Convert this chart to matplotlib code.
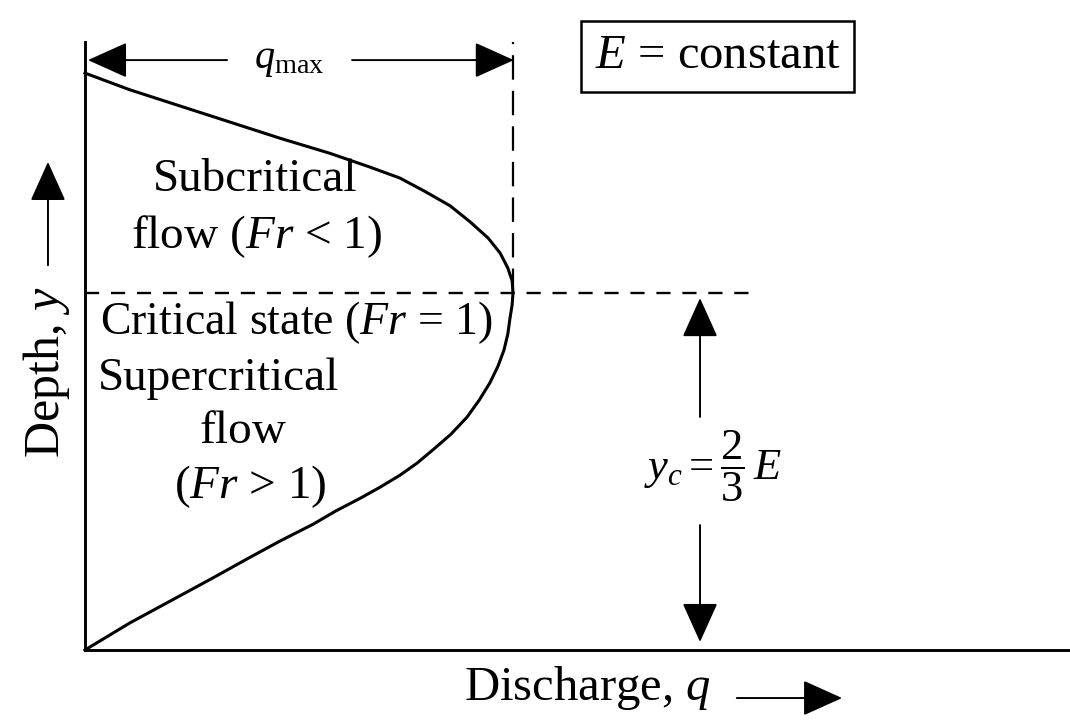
# Import the required libraries.
import matplotlib.pyplot as plt

# Font setup: a Times-like serif for the text and the maths.
plt.rcParams['font.family'] = ['Liberation Serif', 'DejaVu Serif']
plt.rcParams['mathtext.fontset'] = 'custom'
plt.rcParams['mathtext.rm'] = 'Liberation Serif'
plt.rcParams['mathtext.it'] = 'Liberation Serif:italic'
plt.rcParams['mathtext.bf'] = 'Liberation Serif:bold'

# Curve: depth as y/E, discharge as q/q_max.
discharge = [0.0, 0.105, 0.222, 0.339, 0.456, 0.572, 0.666, 0.736, 0.794, 0.853,
             0.900, 0.942, 0.970, 0.988, 0.998, 1.0, 0.998, 0.993, 0.988, 0.979,
             0.965, 0.946, 0.921, 0.893, 0.855, 0.813, 0.776, 0.736, 0.689, 0.643,
             0.586, 0.533, 0.456, 0.379, 0.299, 0.222, 0.105, 0.0]
depth = [1.0, 0.971, 0.943, 0.915, 0.887, 0.861, 0.837, 0.818, 0.795, 0.770,
         0.742, 0.714, 0.688, 0.662, 0.640, 0.619, 0.598, 0.575, 0.548, 0.520,
         0.492, 0.463, 0.433, 0.404, 0.374, 0.347, 0.324, 0.303, 0.282, 0.263,
         0.241, 0.218, 0.189, 0.158, 0.125, 0.094, 0.047, 0.0]

# Critical point (maximum discharge).
q_max = 1.0
y_crit = 0.619

# Create the figure and axes.
fig = plt.figure(figsize=(10.7, 7.22), dpi=100)
ax = fig.add_axes([0.0794, 0.0997, 0.9206, 0.842])
ax.set_xlim(0, 2.3014)
ax.set_ylim(0, 1.0537)

# Axis styling: only left and bottom lines, no ticks.
for side in ['top', 'right']:
    ax.spines[side].set_visible(False)
for side in ['left', 'bottom']:
    ax.spines[side].set_linewidth(2.1)
ax.set_xticks([])
ax.set_yticks([])

# The specific energy curve.
ax.plot(discharge, depth, color='k', lw=2.2, solid_joinstyle='round', clip_on=False)

# Dashed guide lines through the critical point.
ax.plot([0, 1.554], [y_crit, y_crit], color='k', lw=1.7, linestyle=(0, (6, 5)))
ax.plot([q_max, q_max], [y_crit, 1.0537], color='k', lw=1.6, linestyle=(0, (11, 5)),
        clip_on=False)

# Helper for the filled arrows.
def arrow(x0, y0, x1, y1):
    ax.annotate('', xy=(x1, y1), xytext=(x0, y0), annotation_clip=False,
                arrowprops=dict(arrowstyle='-|>,head_length=1.0,head_width=0.45',
                                mutation_scale=25, lw=1.4, color='k',
                                shrinkA=0, shrinkB=0))

# q_max dimension arrows.
arrow(0.332, 1.0225, 0.007, 1.0225)
arrow(0.624, 1.0225, 1.002, 1.0225)
ax.text(0.478, 1.0225, r'$q_{\mathrm{max}}$', fontsize=29, ha='center', va='center')

# Axis direction arrows.
arrow(-0.0864, 0.667, -0.0864, 0.846)
arrow(1.523, -0.0832, 1.769, -0.0832)

# Critical depth arrows.
arrow(1.437, 0.404, 1.437, 0.610)
arrow(1.437, 0.2166, 1.437, 0.0139)

# Labels.
ax.text(0.397, 0.815, 'Subcritical', fontsize=34, ha='center', va='center')
ax.text(0.402, 0.716, r'flow ($Fr$ < 1)', fontsize=34, ha='center', va='center')
ax.text(0.035, 0.567, r'Critical state ($Fr$ = 1)', fontsize=33, ha='left', va='center')
ax.text(0.030, 0.471, 'Supercritical', fontsize=34, ha='left', va='center')
ax.text(0.369, 0.378, 'flow', fontsize=34, ha='center', va='center')
ax.text(0.386, 0.284, r'($Fr$ > 1)', fontsize=34, ha='center', va='center')
ax.text(-0.0888, 0.482, r'Depth, $y$', fontsize=36, rotation=90, ha='center', va='center')
ax.text(1.173, -0.0665, r'Discharge, $q$', fontsize=35, ha='center', va='center')
ax.text(1.467, 0.318, r'$y_c = \dfrac{2}{3}\,E$', fontsize=32, ha='center', va='center')
ax.text(1.478, 1.029, r'$E$ = constant', fontsize=35, ha='center', va='center',
        bbox=dict(boxstyle='square,pad=0.28', fc='white', ec='k', lw=1.8))

# Save the figure.
fig.savefig('out.png', dpi=100)
